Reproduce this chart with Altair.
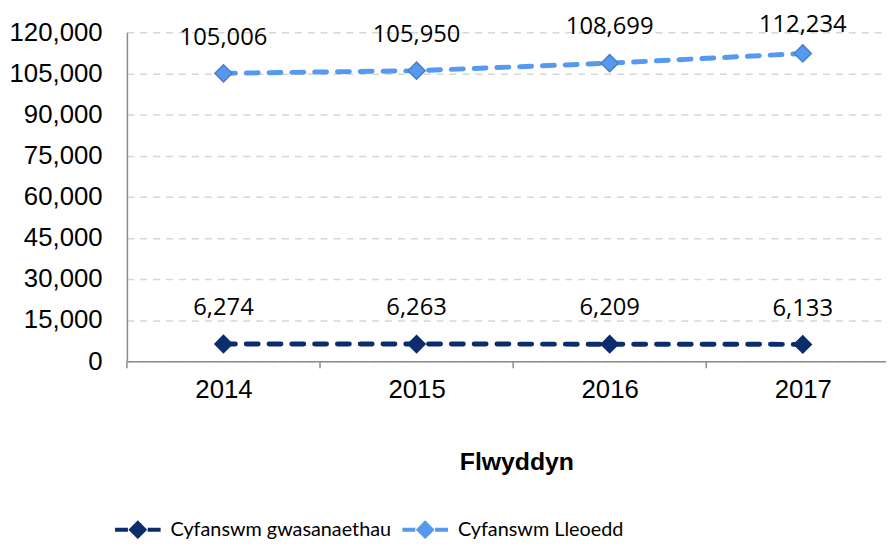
import altair as alt
import pandas as pd

years = [2014, 2015, 2016, 2017]
series_names = ["Cyfanswm gwasanaethau", "Cyfanswm Lleoedd"]
gwasanaethau = [6274, 6263, 6209, 6133]
lleoedd = [105006, 105950, 108699, 112234]
line_colors = ["#0b2d6b", "#5599f0"]
marker_strokes = ["#0b2d6b", "#4a7fc4"]
y_ticks = [0, 15000, 30000, 45000, 60000, 75000, 90000, 105000, 120000]
boundaries = [2013.5, 2014.5, 2015.5, 2016.5]

df = pd.DataFrame({
    "year": years * 2,
    "series": [series_names[0]] * len(years) + [series_names[1]] * len(years),
    "value": gwasanaethau + lleoedd,
})
bdf = pd.DataFrame({"b": boundaries})

PLOT_W = 766
PLOT_H = 332
X_DOMAIN = [2013.5, 2017.431]
x_scale = alt.Scale(domain=X_DOMAIN, nice=False, zero=False)
y_scale = alt.Scale(domain=[0, 120000], nice=False)

x_enc = alt.X(
    "year:Q",
    scale=x_scale,
    axis=alt.Axis(
        values=years,
        format="d",
        labelFont="Liberation Sans",
        labelFontSize=26,
        labelColor="#000000",
        labelPadding=16,
        labelOverlap=False,
        labelFlush=False,
        ticks=False,
        domainColor="#8c8c8c",
        domainWidth=1.5,
        grid=False,
        title="Flwyddyn",
        titleFont="Liberation Sans",
        titleFontSize=25,
        titleFontWeight="bold",
        titleColor="#000000",
        titleX=393,
        titleY=89,
        titleAlign="center",
        titleBaseline="top",
    ),
)

y_enc = alt.Y(
    "value:Q",
    scale=y_scale,
    axis=alt.Axis(
        values=y_ticks,
        format=",d",
        labelFont="Liberation Sans",
        labelFontSize=26,
        labelColor="#000000",
        labelPadding=25,
        ticks=False,
        domainColor="#8c8c8c",
        domainWidth=1.5,
        grid=True,
        gridColor="#d6d6d6",
        gridDash=[7, 6],
        gridWidth=1.5,
        title=None,
    ),
)

base = alt.Chart(df).encode(x=x_enc, y=y_enc)

is_second = f"datum.series == '{series_names[1]}'"

tick_marks = alt.Chart(bdf).mark_rule(color="#8c8c8c", strokeWidth=1.5).encode(
    x=alt.X("b:Q", scale=x_scale),
    y=alt.value(PLOT_H),
    y2=alt.value(PLOT_H + 7),
)

lines = base.mark_line(strokeDash=[12, 11], strokeWidth=5, strokeCap="round").encode(
    detail="series:N",
    color=alt.condition(is_second, alt.value(line_colors[1]), alt.value(line_colors[0])),
)

legend_path = ("M-2.3,-0.2 L-1.0,-0.2 L-1.0,0.2 L-2.3,0.2 Z "
               "M-0.95,0 L0,-0.95 L0.95,0 L0,0.95 Z "
               "M1.0,-0.2 L2.3,-0.2 L2.3,0.2 L1.0,0.2 Z")

points = base.mark_point(shape="diamond", size=300, filled=True, strokeWidth=1.5, opacity=1).encode(
    fill=alt.Fill(
        "series:N",
        scale=alt.Scale(domain=series_names, range=line_colors),
        legend=alt.Legend(
            title=None,
            orient="none",
            direction="horizontal",
            legendX=1,
            legendY=492,
            symbolType=legend_path,
            symbolSize=400,
            symbolStrokeWidth=0,
            symbolOpacity=1,
            labelFont="Lato",
            labelFontSize=20,
            labelColor="#000000",
            labelOffset=23,
            columnPadding=11,
            padding=0,
            labelLimit=400,
        ),
    ),
    stroke=alt.condition(is_second, alt.value(marker_strokes[1]), alt.value(marker_strokes[0])),
)

labels = base.transform_calculate(
    label_y="min(datum.value + 13000, 122600)"
).mark_text(
    font="Open Sans", fontSize=24, color="#000000", baseline="middle", align="center"
).encode(
    y=alt.Y("label_y:Q", scale=y_scale),
    text=alt.Text("value:Q", format=",d"),
)

chart = alt.layer(tick_marks, lines, points, labels).properties(
    width=PLOT_W,
    height=PLOT_H,
    autosize=alt.AutoSizeParams(type="none"),
    padding={"left": 120, "top": 22, "right": 0, "bottom": 177},
).configure_view(stroke=None)

chart.save("out.html", embed_options={"renderer": "svg", "actions": False})
